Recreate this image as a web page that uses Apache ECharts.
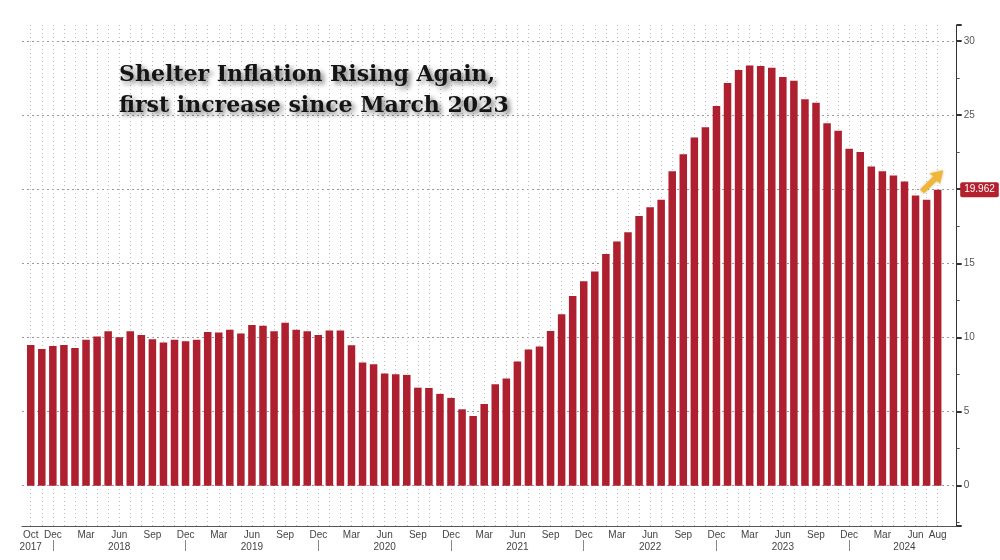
<!DOCTYPE html>
<html>
<head>
<meta charset="utf-8">
<script src="https://cdn.jsdelivr.net/npm/echarts@6/dist/echarts.min.js"></script>
<style>html,body{margin:0;padding:0;background:#fff;}#c{width:1000px;height:560px;}</style>
</head>
<body>
<div id="c"></div>
<script>
var categories = [
 '2017-10','2017-11','2017-12',
 '2018-01','2018-02','2018-03','2018-04','2018-05','2018-06','2018-07','2018-08','2018-09','2018-10','2018-11','2018-12',
 '2019-01','2019-02','2019-03','2019-04','2019-05','2019-06','2019-07','2019-08','2019-09','2019-10','2019-11','2019-12',
 '2020-01','2020-02','2020-03','2020-04','2020-05','2020-06','2020-07','2020-08','2020-09','2020-10','2020-11','2020-12',
 '2021-01','2021-02','2021-03','2021-04','2021-05','2021-06','2021-07','2021-08','2021-09','2021-10','2021-11','2021-12',
 '2022-01','2022-02','2022-03','2022-04','2022-05','2022-06','2022-07','2022-08','2022-09','2022-10','2022-11','2022-12',
 '2023-01','2023-02','2023-03','2023-04','2023-05','2023-06','2023-07','2023-08','2023-09','2023-10','2023-11','2023-12',
 '2024-01','2024-02','2024-03','2024-04','2024-05','2024-06','2024-07','2024-08'
];
var shelterValues = [
 9.49, 9.22, 9.42,
 9.49, 9.29, 9.85, 10.06, 10.42, 10.01, 10.42, 10.17, 9.88, 9.65, 9.85, 9.74,
 9.85, 10.37, 10.33, 10.51, 10.26, 10.84, 10.78, 10.42, 10.98, 10.51, 10.42, 10.17,
 10.46, 10.46, 9.47, 8.30, 8.19, 7.56, 7.52, 7.47, 6.61, 6.59, 6.19, 5.92,
 5.15, 4.70, 5.51, 6.84, 7.22, 8.37, 9.18, 9.38, 10.44, 11.56, 12.80, 13.79,
 14.44, 15.63, 16.47, 17.10, 18.18, 18.78, 19.28, 21.21, 22.36, 23.48, 24.18, 25.60,
 27.15, 28.03, 28.34, 28.30, 28.18, 27.56, 27.31, 26.07, 25.82, 24.45, 23.93, 22.72,
 22.50, 21.53, 21.21, 20.92, 20.51, 19.57, 19.28, 19.962
];
var monthNames = ['Jan','Feb','Mar','Apr','May','Jun','Jul','Aug','Sep','Oct','Nov','Dec'];
var yearLabelAt = {'2017-10':'2017','2018-06':'2018','2019-06':'2019','2020-06':'2020','2021-06':'2021','2022-06':'2022','2023-06':'2023','2024-05':'2024'};
var titleLines = ['Shelter Inflation Rising Again,', 'first increase since March 2023'];
var lastLabel = '19.962';
var yMin = -2.72, yMax = 31.07;

function monthOf(c){ return parseInt(c.slice(5), 10); }
function isMonthLabeled(i){
  var m = monthOf(categories[i]);
  return i === 0 || i === categories.length - 1 || m % 3 === 0;
}

var chart = echarts.init(document.getElementById('c'), null, {renderer: 'canvas'});
var lastIdx = categories.length - 1;
chart.setOption({
  animation: false,
  backgroundColor: '#ffffff',
  title: {
    text: titleLines.join('\n'),
    left: 114, top: 55,
    textStyle: {
      fontFamily: 'DejaVu Serif', fontWeight: 'bold', fontSize: 22, lineHeight: 31,
      color: '#141414',
      textShadowColor: 'rgba(0,0,0,0.55)', textShadowBlur: 5, textShadowOffsetX: 3, textShadowOffsetY: 3
    }
  },
  grid: [
    {left: 25.2, right: 56.8, top: 25, bottom: 34},
    {left: 22, right: 43.3, top: 25, bottom: 34}
  ],
  xAxis: [
    {
      type: 'category', gridIndex: 0, data: categories, boundaryGap: true,
      axisLine: {show: false},
      axisTick: {show: true, inside: true, length: 3, alignWithLabel: true,
        interval: function(i){ return !isMonthLabeled(i); },
        lineStyle: {color: '#555'}},
      axisLabel: {
        interval: function(i){ return isMonthLabeled(i); },
        formatter: function(v){ return monthNames[monthOf(v) - 1]; },
        color: '#444', fontFamily: 'Liberation Sans', fontSize: 10, margin: 4
      },
      splitLine: {show: true, interval: 0, alignWithLabel: true,
        lineStyle: {color: '#bdbdbd', type: [1, 3], width: 1}}
    },
    {
      type: 'category', gridIndex: 0, data: categories, position: 'bottom', offset: 14,
      axisLine: {show: false},
      axisTick: {show: true, inside: false, length: 11, alignWithLabel: true,
        interval: function(i){ return monthOf(categories[i]) === 12; },
        lineStyle: {color: '#888'}},
      axisLabel: {
        interval: function(i){ return yearLabelAt[categories[i]] !== undefined; },
        formatter: function(v){ return yearLabelAt[v] || ''; },
        color: '#444', fontFamily: 'Liberation Sans', fontSize: 10, margin: 2
      },
      splitLine: {show: false}
    },
    {
      type: 'value', gridIndex: 1, min: 0, max: 1,
      axisLine: {show: true, onZero: false, lineStyle: {color: '#555', width: 1}},
      axisTick: {show: false}, axisLabel: {show: false}, splitLine: {show: false}
    }
  ],
  yAxis: [
    {type: 'value', gridIndex: 0, min: yMin, max: yMax, show: false, splitLine: {show: false}},
    {
      type: 'value', gridIndex: 1, min: yMin, max: yMax, position: 'right', splitNumber: 6,
      axisLine: {show: true, onZero: false, lineStyle: {color: '#333', width: 1}},
      axisTick: {show: true, length: 5, lineStyle: {color: '#333', width: 2}},
      minorTick: {show: true, splitNumber: 2, length: 3, lineStyle: {color: '#555'}},
      axisLabel: {color: '#555', fontFamily: 'Liberation Sans', fontSize: 10, margin: 7,
        showMinLabel: false, showMaxLabel: false},
      splitLine: {show: true, showMinLine: false, showMaxLine: false,
        lineStyle: {color: '#9a9a9a', type: [2, 3], width: 1}}
    }
  ],
  series: [
    {
      type: 'bar', xAxisIndex: 0, yAxisIndex: 0, data: shelterValues,
      barCategoryGap: '32%',
      itemStyle: {color: '#ae2030'},
      markLine: {
        silent: true, symbol: 'none',
        data: [{yAxis: shelterValues[lastIdx]}],
        lineStyle: {color: 'rgba(0,0,0,0)', width: 1},
        label: {show: true, position: 'end', distance: 17, formatter: lastLabel,
          color: '#fff', backgroundColor: '#b3202e', padding: [3, 4, 2, 4], borderRadius: 2,
          fontFamily: 'Liberation Sans', fontSize: 10}
      },
      markPoint: {
        silent: true,
        data: [{
          coord: [categories[lastIdx - 1], 20.55],
          symbol: 'path://M8 0 L16 12 L11 11 L11 30 L5 30 L5 11 L0 12 Z',
          symbolSize: [15, 30], symbolRotate: -45, symbolOffset: [6, 0],
          itemStyle: {color: '#f0b636', shadowColor: 'rgba(120,80,0,0.35)', shadowBlur: 3},
          label: {show: false}
        }]
      }
    }
  ]
});
</script>
</body>
</html>
